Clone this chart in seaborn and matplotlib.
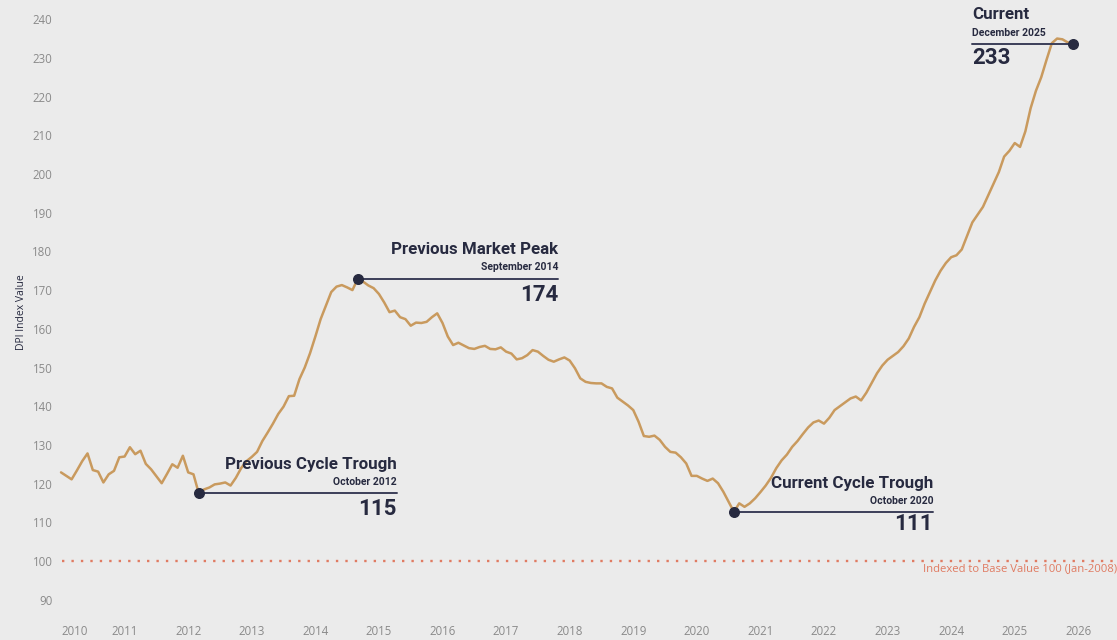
import numpy as np
import pandas as pd
import matplotlib
matplotlib.use("Agg")
import matplotlib.pyplot as plt
import seaborn as sns

# DPI index, monthly, Jan 2010 - Dec 2025
dpi_values = [
    122.9, 122.0, 121.1, 123.4, 125.8, 127.8, 123.5, 123.1, 120.3, 122.4, 123.3, 126.8,
    127.0, 129.4, 127.6, 128.5, 125.1, 123.7, 121.9, 120.1, 122.5, 125.0, 124.1, 127.2,
    122.9, 122.4, 117.5, 118.5, 119.0, 119.8, 120.0, 120.3, 119.5, 121.5, 124.0, 125.8,
    126.9, 128.2, 131.0, 133.2, 135.5, 138.0, 139.9, 142.6, 142.7, 147.0, 150.0, 153.7,
    158.0, 162.5, 166.0, 169.5, 170.9, 171.3, 170.7, 170.0, 172.9, 172.2, 171.2, 170.5,
    169.0, 166.8, 164.3, 164.7, 163.0, 162.5, 160.8, 161.6, 161.5, 161.8, 163.0, 164.0,
    161.5, 158.0, 155.8, 156.4, 155.7, 155.0, 154.8, 155.3, 155.6, 154.8, 154.7, 155.2,
    154.1, 153.6, 152.1, 152.4, 153.2, 154.5, 154.1, 153.0, 152.0, 151.5, 152.1, 152.6,
    151.8, 149.8, 147.2, 146.3, 146.0, 145.9, 145.9, 145.0, 144.6, 142.2, 141.2, 140.2,
    139.0, 136.0, 132.3, 132.1, 132.4, 131.3, 129.5, 128.2, 128.0, 126.8, 125.2, 122.0,
    122.0, 121.3, 120.7, 121.3, 120.1, 117.9, 115.3, 112.7, 114.9, 114.0, 114.9, 116.2,
    117.8, 119.5, 121.5, 124.0, 126.0, 127.5, 129.5, 131.0, 132.8, 134.5, 135.8, 136.3,
    135.5, 137.0, 139.0, 140.0, 141.0, 142.0, 142.5, 141.5, 143.5, 146.0, 148.5, 150.5,
    152.0, 153.0, 154.0, 155.5, 157.5, 160.5, 163.0, 166.5, 169.5, 172.5, 175.0, 177.0,
    178.5, 179.0, 180.5, 184.0, 187.5, 189.5, 191.5, 194.5, 197.5, 200.5, 204.5, 206.0,
    208.0, 207.0, 211.0, 217.0, 221.5, 225.0, 229.5, 233.8, 235.0, 234.8, 234.0, 233.6,
]
year_labels = [str(y) for y in range(2010, 2027)]
y_ticks = [90, 100, 110, 120, 130, 140, 150, 160, 170, 180, 190, 200, 210, 220, 230, 240]

titles = ["Previous Cycle Trough", "Previous Market Peak", "Current Cycle Trough", "Current"]
dates = ["October 2012", "September 2014", "October 2020", "December 2025"]
numbers = ["115", "174", "111", "233"]
point_idx = [26, 56, 127, 191]

base_value = 100
base_note = "Indexed to Base Value 100 (Jan-2008)"

df = pd.DataFrame({"month": np.arange(len(dpi_values)), "dpi": dpi_values})

sns.set_style("white")
plt.rcParams["font.family"] = ["Roboto", "DejaVu Sans"]

BG = "#ebebeb"
LINE = "#c99a5e"
NAVY = "#272a40"
CORAL = "#e07b62"
GREY = "#8a8a8a"

fig = plt.figure(figsize=(11.17, 6.4), dpi=100, facecolor=BG)
ax = fig.add_axes([58 / 1117, 25 / 640, 1 - 58 / 1117, 1 - 25 / 640])
ax.set_facecolor(BG)

sns.lineplot(data=df, x="month", y="dpi", color=LINE, linewidth=1.8, ax=ax)

# base line at 100
ax.axhline(base_value, xmin=0.004, color=CORAL, linestyle=(0, (1, 3)), linewidth=1.7)
ax.text(199.3, 98.1, base_note, ha="right", va="center", color=CORAL,
        fontsize=8.1, family="Open Sans")

ax.set_xlim(-0.57, 199.3)
ax.set_ylim(86.05, 244.96)

ax.set_xticks(np.arange(len(year_labels)) * 12)
ax.set_xticklabels(year_labels)
ax.set_yticks(y_ticks)
ax.tick_params(axis="both", length=0, labelsize=8.3, labelcolor=GREY)
ax.tick_params(axis="x", pad=7)
ax.tick_params(axis="y", pad=4)
for lab in ax.get_xticklabels() + ax.get_yticklabels():
    lab.set_family("Open Sans")
ax.get_xticklabels()[0].set_ha("left")

ax.set_ylabel("DPI Index Value", fontsize=7.5, color=NAVY, family="Open Sans")
ax.yaxis.set_label_coords(-0.029, 0.493)
ax.set_xlabel("")
ax.grid(False)
for s in ax.spines.values():
    s.set_visible(False)

# annotations: text x, end of leader line, alignment
layout = [
    (63.4, 63.4, "right"),
    (93.8, 93.8, "right"),
    (164.6, 164.6, "right"),
    (172.0, 172.0, "left"),
]
offsets = [(7.4, 2.8, -4.0), (7.7, 3.1, -4.2), (7.2, 2.8, -3.1), (7.5, 2.8, -3.6)]

for i in range(len(titles)):
    idx = point_idx[i]
    yv = dpi_values[idx]
    tx, lx, ha = layout[i]
    ax.plot([idx, lx], [yv, yv], color="#3c3f58", linewidth=1.4, zorder=3)
    ax.scatter([idx], [yv], s=48, color=NAVY, zorder=4)
    t_off, d_off, n_off = offsets[i]
    ax.text(tx, yv + t_off, titles[i], ha=ha, va="center", color=NAVY,
            fontsize=12.2, fontweight="bold")
    ax.text(tx, yv + d_off, dates[i], ha=ha, va="center", color=NAVY,
            fontsize=7.5, fontweight="bold")
    ax.text(tx, yv + n_off, numbers[i], ha=ha, va="center", color=NAVY,
            fontsize=16, fontweight="bold")

fig.savefig("out.png", dpi=100, facecolor=BG)
